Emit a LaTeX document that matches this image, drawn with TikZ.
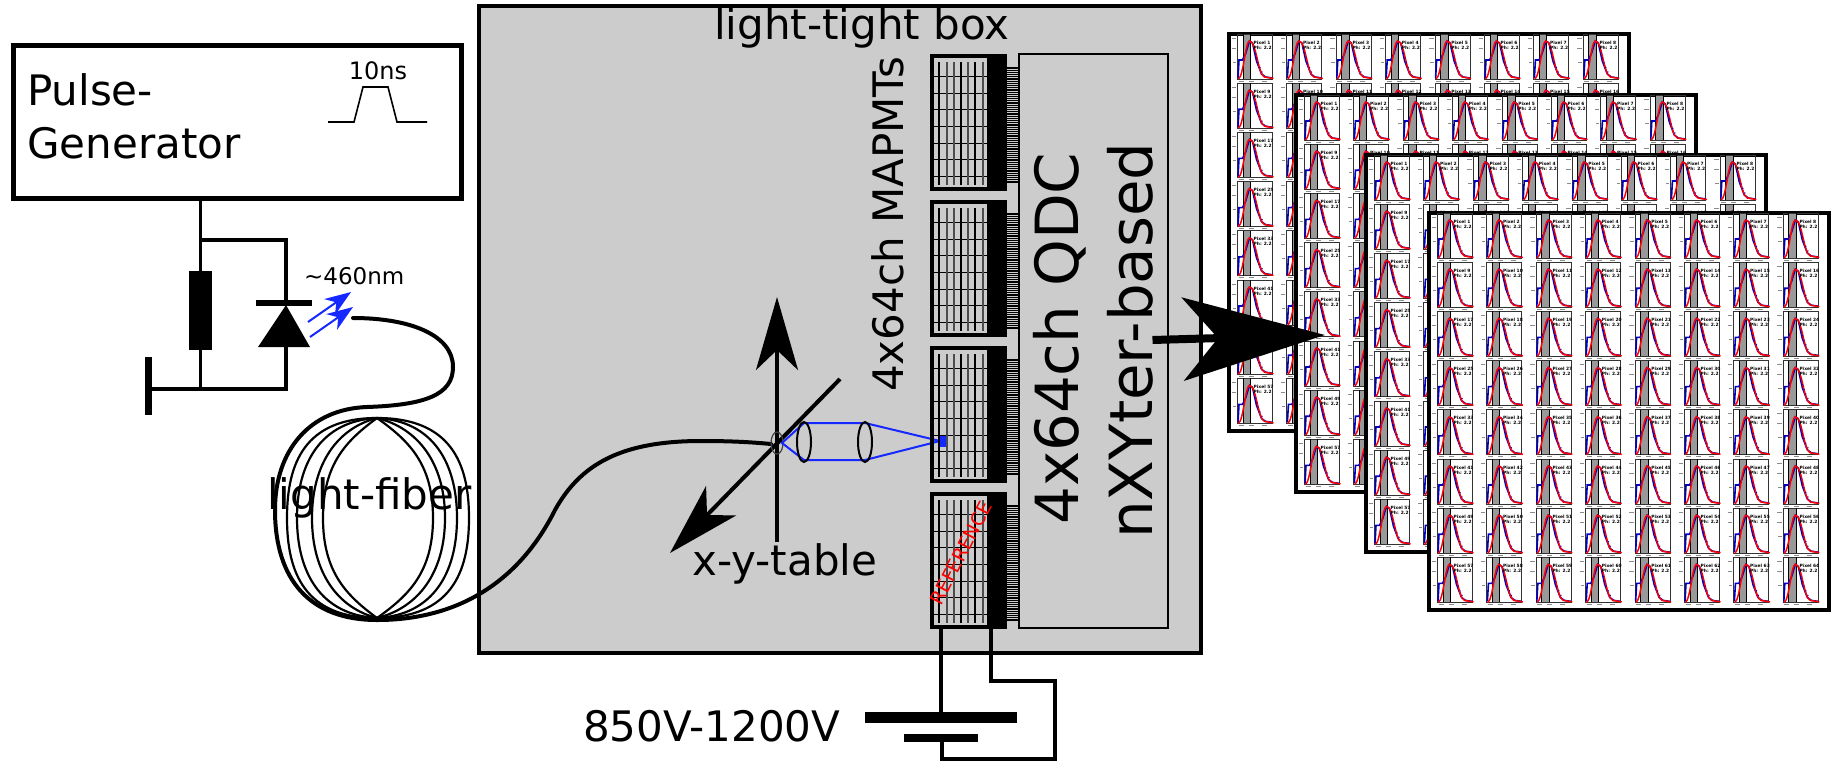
\documentclass[tikz,border=0pt]{standalone}
\usepackage{fontspec}
\setmainfont{DejaVu Sans}
\usetikzlibrary{arrows.meta}
\definecolor{GrisCaja}{RGB}{204,204,204}
\definecolor{AzulLuz}{RGB}{20,40,255}
\definecolor{AzulHist}{RGB}{0,0,190}
\tikzset{
  bigtxt/.style={font=\fontsize{42}{48}\selectfont,inner sep=0pt},
  hugetxt/.style={font=\fontsize{59.5}{66}\selectfont,inner sep=0pt},
  smalltxt/.style={font=\fontsize{24}{28}\selectfont,inner sep=0pt},
  pixtxt/.style={font=\fontsize{4.4}{5}\selectfont\bfseries,inner sep=0pt,anchor=base west},
  wire/.style={line width=3.5pt,black},
  fiber/.style={line width=4pt,black,line cap=round},
  coilarc/.style={line width=2.2pt,black},
  pmtbox/.style={draw,line width=4pt,minimum width=73pt,minimum height=133pt,inner sep=0pt},
  bigarrow/.style={-{Stealth[length=73pt,width=42pt,inset=20pt]},line width=4pt},
  lightarrow/.style={-{Stealth[length=26pt,width=19pt,inset=8pt]},line width=2pt,AzulLuz},
}
\begin{document}
\begin{tikzpicture}[x=1pt,y=-1pt]
  \useasboundingbox (0,0) rectangle (1831,761);

  % one small histogram of a panel
  \def\pixplot#1#2{%
    \fill[black!40] (6,0) rectangle (13,45);
    \draw[line width=.9pt,black!80] (0,0) rectangle (35,45);
    \draw[line width=.9pt] (5.5,0)--(5.5,45) (13,0)--(13,45);
    \draw[line width=1pt,black!45] (-6,4)--(-1.5,4) (-6,14)--(-1.5,14) (-5,28)--(-1.5,28)
      (1,47)--(6,47) (11,47)--(16,47) (24,47)--(29,47);
    \draw[line width=1.6pt,AzulHist] (.5,44)--(1.5,26)--(5,26)--(8,20)--(12,7)--(15,9)--(19,27)--(24,40)--(28,43)--(35,44);
    \draw[line width=1.5pt,red] (1,45) .. controls (6,42) and (8,7) .. (12,7) .. controls (19,7) and (20,40) .. (27,43)--(36,44.5);
    \draw[line width=1pt,AzulHist,dash pattern=on 1pt off 4pt] (16,14)--(21,30)--(26,41);
    \node[pixtxt] (Pix#1-#2) at (16,10) {Pixel #2};
    \node[pixtxt] (Ph#1-#2) at (16,15) {Ph: 2.2};
  }

  % stacked panels of histograms
  \foreach \px/\py/\pn in {1229/34/1,1296/95/2,1366/155/3,1429/213/4} {
    \draw[line width=4.5pt,fill=white] (\px,\py) rectangle (\px+400,\py+397);
    \foreach \r in {0,...,7} {
      \foreach \c in {0,...,7} {
        \pgfmathtruncatemacro\nr{\r*8+\c+1}
        \begin{scope}[shift={(\px+8.5+\c*49.4,\py+\r*49.2)}]
          \pixplot{\pn}{\nr}
        \end{scope}
      }
    }
  }

  % Pulse generator
  \node[draw,line width=5pt,minimum width=448pt,minimum height=153pt,inner sep=0pt] (PulseGen) at (237,121.5) {};
  \node[bigtxt,anchor=base west] (PulseTxt) at (27,105) {Pulse-};
  \node[bigtxt,anchor=base west] (GenTxt) at (27,158) {Generator};
  \node[smalltxt,anchor=base] (TenNs) at (378,79) {10ns};
  \draw[line width=1.6pt] (328,122)--(354,122)--(363,87)--(388,87)--(397,122)--(427,122);

  % Resistor and LED
  \node[fill=black,minimum width=23pt,minimum height=79pt,inner sep=0pt] (Resistor) at (200.5,310.5) {};
  \coordinate (LedTop) at (286,303);
  \coordinate (LedBot) at (286,347);
  \coordinate (Gnd) at (148,389);
  \draw[wire] (PulseGen.south -| Resistor.north) -- (Resistor.north);
  \draw[wire] (Resistor.south) -- (Resistor.south |- Gnd);
  \draw[wire] (201,240) -| (LedTop);
  \draw[wire] (LedBot) |- (Gnd);
  \draw[line width=7pt] (148,357)--(148,415);
  \draw[line width=6pt] (256,303)--(312,303);
  \fill (LedTop) ++(0,2) -- (310,347) -- (258,347) -- cycle;
  \draw[lightarrow] (308,322)--(351,292);
  \draw[lightarrow] (310,337)--(353,307);
  \node[smalltxt,font=\fontsize{23}{28}\selectfont,anchor=base west] (WaveTxt) at (304,284) {\char"007E 460nm};

  % Light-tight box
  \draw[line width=4pt,fill=GrisCaja] (479,6) rectangle (1200.5,653);
  \node[bigtxt,anchor=base west] (BoxTxt) at (714,39) {light-tight box};

  % Fiber coil
  \foreach \d/\f/\t in {-90/.8/0,-80/.7/3,-65/.6/10,-54/.55/22,56/.55/22,68/.6/10,80/.7/3,92/.8/0} {
    \draw[coilarc] (377,418) .. controls (377+\f*\d,418+\t) and (377+\d,463) .. (377+\d,518)
      .. controls (377+\d,573) and (377+\f*\d,618-\t) .. (377,618);
  }
  \draw[fiber] (353,318) .. controls (410,318) and (453,335) .. (453,367)
    .. controls (453,395) and (425,405) .. (367,407)
    .. controls (310,409) and (275,450) .. (275,510)
    .. controls (275,580) and (310,620) .. (377,620)
    .. controls (460,620) and (520,580) .. (555,510)
    .. controls (580,465) and (620,441) .. (701,441)
    .. controls (730,441) and (750,442) .. (771,444);
  \node[bigtxt,anchor=base west] (FiberTxt) at (267,509) {light-fiber};

  % x-y table
  \coordinate (TableBot) at (777,542);
  \coordinate (TableTop) at (777,297);
  \coordinate (TableRgt) at (840,379);
  \coordinate (TableLft) at (670,553);
  \draw[bigarrow] (TableBot)--(TableTop);
  \draw[bigarrow] (TableRgt)--(TableLft);
  \draw[line width=1.2pt,black!75] (777,443) ellipse (6 and 11);
  \draw[line width=2pt,AzulLuz] (782,443)--(804,423)--(865,423)--(940,441)--(865,460)--(804,460)--cycle;
  \draw[line width=2pt] (804,442) ellipse (7 and 20);
  \draw[line width=2pt] (865,442) ellipse (7 and 20);
  \fill[AzulLuz] (940,436) rectangle (946,447);
  \node[bigtxt,anchor=base west] (TableTxt) at (692,575) {x-y-table};

  % MAPMTs
  \foreach \by/\un in {54/1,200/2,346/3,492/4} {
    \node[pmtbox] (Pmt\un) at (968.5,\by+68.5) {};
    \fill (987,\by) rectangle (1007,\by+137);
    \foreach \hy in {22,39,55,72,89,105,122} {
      \draw[line width=1pt] (934,\by+\hy)--(988,\by+\hy);
    }
    \foreach \vx/\vc in {939/black,947/black!70,954/black!70,961/black,968/black!70,975/black,983/black!70} {
      \draw[line width=1.3pt,\vc] (\vx,\by+8)--(\vx,\by+131);
    }
    \foreach \k in {0,...,63} {
      \draw[line width=.9pt] (1007,\by+13+\k*1.84)--(1019,\by+13+\k*1.84);
    }
  }
  \node[bigtxt,rotate=90,anchor=base west] (MapmtTxt) at (903,392) {4x64ch MAPMTs};
  \node[font=\fontsize{19}{24}\selectfont,inner sep=0pt,rotate=63,red] (RefTxt) at (961,553) {REFERENCE};

  % QDC board
  \node[draw,line width=2.5pt,minimum width=149pt,minimum height=574pt,inner sep=0pt] (Qdc) at (1093.5,341) {};
  \node[hugetxt,rotate=90,anchor=base west] (QdcTxt) at (1078,525) {4x64ch QDC};
  \node[hugetxt,rotate=90,anchor=base west] (NxyTxt) at (1152,539) {nXYter-based};

  % High voltage
  \coordinate (Anode) at (941,712);
  \coordinate (Cathode) at (942,742);
  \draw[wire] (Pmt4.south -| Anode) -- (Anode);
  \draw[wire] (991,628) -- (991,681) -- (1055,681) -- (1055,759) -- (942,759) -- (Cathode);
  \draw[line width=11pt] (865,717.5)--(1017,717.5);
  \draw[line width=8pt] (904,738)--(978,738);
  \node[bigtxt,anchor=base west] (VoltTxt) at (583,741) {850V-1200V};

  % Readout arrow
  \draw[-{Stealth[length=142pt,width=83pt,inset=35pt]},line width=8pt] (Qdc.center |- 0,340) ++(59,0) -- (1325,335);
\end{tikzpicture}
\end{document}
